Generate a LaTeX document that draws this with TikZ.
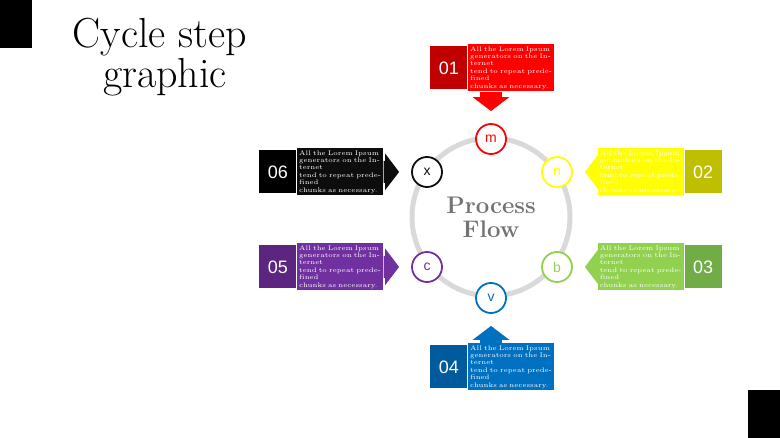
\documentclass[tikz,border=0pt]{standalone}
\usepackage{fontspec}
\setsansfont{Liberation Sans}
\usetikzlibrary{positioning}
\usetikzlibrary{arrows.meta}

\definecolor{redA}{HTML}{FF0000}
\definecolor{redB}{HTML}{C00000}
\definecolor{yelA}{HTML}{FFFF00}
\definecolor{yelB}{HTML}{BFBF00}
\definecolor{grnA}{HTML}{92D050}
\definecolor{grnB}{HTML}{70AD47}
\definecolor{bluA}{HTML}{0070C0}
\definecolor{bluB}{HTML}{005A9E}
\definecolor{purA}{HTML}{7030A0}
\definecolor{purB}{HTML}{5B2580}
\definecolor{blkA}{HTML}{0D0D0D}
\definecolor{blkB}{HTML}{000000}

\newcommand{\lorem}{All the Lorem Ipsum\\generators on the Internet\\tend to repeat predefined\\chunks as necessary.}

\tikzset{
  numbox/.style={fill=#1, text=white, minimum width=18.5pt, minimum height=21.5pt,
    inner sep=0pt, font=\sffamily\fontsize{9}{9}\selectfont},
  txtbox/.style={fill=#1, text=white, minimum width=43pt, minimum height=21.5pt,
    inner sep=1pt, text width=41pt, align=left, font=\fontsize{3.3}{3.7}\selectfont},
  stepdot/.style={circle, draw=#1, line width=0.9pt, fill=white, minimum size=15pt,
    inner sep=0pt, text=#1, font=\sffamily\fontsize{7}{7}\selectfont},
  pointer/.style={draw=#1, line width=11pt, shorten >=6pt,
    -{Triangle[width=18pt,length=7pt]}},
}

\begin{document}
\begin{tikzpicture}[x=0.5pt,y=-0.5pt]
    \useasboundingbox (0,0) rectangle (780,438);
    \fill[black] (0,0) rectangle (32,48);
    \fill[black] (748,390) rectangle (780,438);
    \node (title1) at (160,37) {\fontsize{21}{21}\selectfont Cycle step};
    \node (title2) at (165,77) {\fontsize{21}{21}\selectfont graphic};

    % ring
    \node[circle, draw=black!15, line width=2.5pt, minimum size=79pt] (ring) at (491,217) {};
    \node[text=black!55, align=center, font=\bfseries\fontsize{12}{12}\selectfont] (flow) at (491,217) {Process\\Flow};

    \node[stepdot=redA] (m) at (491,139) {m};
    \node[stepdot=yelA] (n) at (557,172) {n};
    \node[stepdot=grnA] (b) at (557,267) {b};
    \node[stepdot=bluA] (v) at (491,298) {v};
    \node[stepdot=purA] (c) at (427,267) {c};
    \node[stepdot=blkA] (x) at (427,172) {x};

    % boxes
    \node[numbox=redB, anchor=north west] (num1) at (430,46) {01};
    \node[txtbox=redA, right=0pt of num1] (txt1) {\lorem};
    \node[numbox=yelB, anchor=north east] (num2) at (722,150) {02};
    \node[txtbox=yelA, left=0pt of num2] (txt2) {\lorem};
    \node[numbox=grnB, anchor=north east] (num3) at (722,245) {03};
    \node[txtbox=grnA, left=0pt of num3] (txt3) {\lorem};
    \node[numbox=bluB, anchor=north west] (num4) at (430,345) {04};
    \node[txtbox=bluA, right=0pt of num4] (txt4) {\lorem};
    \node[numbox=purB, anchor=north west] (num5) at (259,245) {05};
    \node[txtbox=purA, right=0pt of num5] (txt5) {\lorem};
    \node[numbox=blkB, anchor=north west] (num6) at (259,150) {06};
    \node[txtbox=blkA, right=0pt of num6] (txt6) {\lorem};

    \draw[pointer=redA] (m |- txt1.south) -- (m.north);
    \draw[pointer=yelA] (txt2.west) -- (n.east);
    \draw[pointer=grnA] (txt3.west) -- (b.east);
    \draw[pointer=bluA] (v |- txt4.north) -- (v.south);
    \draw[pointer=purA] (txt5.east) -- (c.west);
    \draw[pointer=blkA] (txt6.east) -- (x.west);
\end{tikzpicture}
\end{document}
